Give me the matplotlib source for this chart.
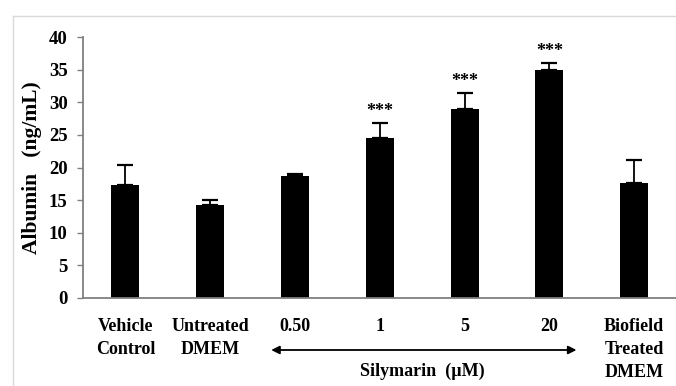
import matplotlib
matplotlib.use("Agg")
import matplotlib.pyplot as plt
from matplotlib.lines import Line2D

categories = ["Vehicle\nControl", "Untreated\nDMEM", "0.50", "1", "5", "20", "Biofield\nTreated\nDMEM"]
values = [17.3, 14.3, 18.7, 24.5, 29.0, 34.9, 17.7]
errors = [3.1, 0.7, 0.25, 2.3, 2.4, 1.1, 3.4]
stars = ["", "", "", "***", "***", "***", ""]
yticks = [0, 5, 10, 15, 20, 25, 30, 35, 40]

plt.rcParams['font.family'] = ['Liberation Serif', 'DejaVu Serif']
plt.rcParams['font.weight'] = 'bold'

W, H = 676, 386
fig = plt.figure(figsize=(W / 100, H / 100), dpi=100)
ax = fig.add_axes([83 / W, 1 - 298 / H, (676.5 - 83) / W, (298 - 37) / H])

x = list(range(len(categories)))
ax.bar(x, values, width=0.33, color='black', zorder=2)
ax.errorbar(x, values, yerr=[[0] * len(errors), errors], fmt='none', ecolor='black',
            elinewidth=1.3, capsize=6, capthick=1.6, zorder=3)
for xi, v, e, s in zip(x, values, errors, stars):
    if s:
        ax.text(xi, v + e + 0.5, s, ha='center', va='bottom', fontsize=13, fontweight='bold')

ax.set_xlim(-0.5, len(categories) - 0.5)
ax.set_ylim(0, 40)
ax.set_yticks(yticks)
ax.set_yticklabels([str(t) for t in yticks], fontsize=13.5, fontweight='bold')
ax.set_xticks(x)
ax.set_xticklabels(categories, fontsize=13, fontweight='bold', linespacing=1.45, va='top')
ax.tick_params(axis='x', length=0, pad=14.5)
ax.tick_params(axis='y', length=4.5, width=1, color='#808080', pad=6.5, direction='out')
for side in ['top', 'right']:
    ax.spines[side].set_visible(False)
for side in ['left', 'bottom']:
    ax.spines[side].set_color('#808080')
    ax.spines[side].set_linewidth(1.3)

ax.set_ylabel("Albumin   (ng/mL)", fontsize=15.5, fontweight='bold', labelpad=5)

# double-headed arrow and group label under the silymarin bars
yarrow = 1 - 350 / H
ax.annotate('', xy=(5.32, yarrow), xytext=(1.72, yarrow),
            xycoords=('data', 'figure fraction'), textcoords=('data', 'figure fraction'),
            arrowprops=dict(arrowstyle='<|-|>', color='black', lw=1.3,
                            mutation_scale=12, shrinkA=0, shrinkB=0),
            annotation_clip=False)
ax.annotate("Silymarin  (\u00b5M)", xy=(3.5, 1 - 371 / H),
            xycoords=('data', 'figure fraction'), ha='center', va='center',
            fontsize=13, fontweight='bold', annotation_clip=False)

# light frame lines
fig.add_artist(Line2D([13 / W, 13 / W], [0, 1 - 16 / H], transform=fig.transFigure,
                      color='#d9d9d9', lw=1))
fig.add_artist(Line2D([13 / W, 1], [1 - 16 / H, 1 - 16 / H], transform=fig.transFigure,
                      color='#d9d9d9', lw=1))

fig.savefig("out.png", dpi=100)
